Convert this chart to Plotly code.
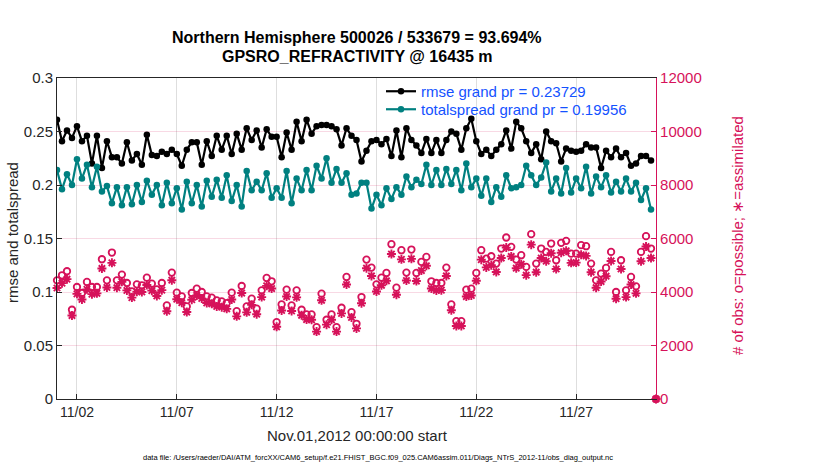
import pandas as pd
import plotly.graph_objects as go

# ---------------- data ----------------
rmse = [0.261, 0.241, 0.251, 0.244, 0.255, 0.241, 0.246, 0.220, 0.246, 0.216,
        0.241, 0.226, 0.226, 0.220, 0.240, 0.223, 0.229, 0.219, 0.247, 0.228,
        0.227, 0.231, 0.229, 0.233, 0.229, 0.218, 0.233, 0.240, 0.240, 0.219,
        0.241, 0.227, 0.246, 0.233, 0.246, 0.229, 0.248, 0.233, 0.253, 0.242,
        0.251, 0.235, 0.252, 0.245, 0.245, 0.226, 0.249, 0.233, 0.259, 0.241,
        0.261, 0.248, 0.255, 0.256, 0.256, 0.255, 0.252, 0.237, 0.253, 0.246,
        0.242, 0.222, 0.232, 0.241, 0.242, 0.238, 0.243, 0.227, 0.251, 0.226,
        0.253, 0.242, 0.237, 0.230, 0.243, 0.230, 0.242, 0.230, 0.242, 0.250,
        0.248, 0.233, 0.253, 0.262, 0.241, 0.229, 0.233, 0.227, 0.233, 0.238,
        0.251, 0.234, 0.259, 0.253, 0.241, 0.230, 0.238, 0.224, 0.250, 0.241,
        0.239, 0.222, 0.234, 0.232, 0.231, 0.232, 0.238, 0.235, 0.235, 0.216,
        0.232, 0.226, 0.234, 0.226, 0.230, 0.218, 0.220, 0.227, 0.227, 0.223]

totalspread = [0.214, 0.196, 0.210, 0.200, 0.224, 0.206, 0.219, 0.198, 0.217, 0.194,
               0.199, 0.183, 0.198, 0.181, 0.198, 0.182, 0.200, 0.184, 0.204, 0.191,
               0.200, 0.181, 0.202, 0.183, 0.197, 0.177, 0.203, 0.183, 0.200, 0.180,
               0.204, 0.189, 0.205, 0.188, 0.209, 0.185, 0.200, 0.180, 0.213, 0.195,
               0.203, 0.195, 0.211, 0.188, 0.197, 0.188, 0.213, 0.183, 0.206, 0.195,
               0.214, 0.195, 0.218, 0.206, 0.225, 0.202, 0.215, 0.202, 0.211, 0.191,
               0.192, 0.202, 0.202, 0.178, 0.191, 0.181, 0.197, 0.187, 0.198, 0.191,
               0.208, 0.198, 0.205, 0.201, 0.219, 0.200, 0.214, 0.200, 0.215, 0.201,
               0.214, 0.195, 0.220, 0.198, 0.206, 0.190, 0.206, 0.184, 0.198, 0.189,
               0.209, 0.197, 0.198, 0.200, 0.218, 0.209, 0.200, 0.207, 0.221, 0.194,
               0.206, 0.192, 0.216, 0.193, 0.206, 0.197, 0.217, 0.192, 0.208, 0.198,
               0.209, 0.193, 0.203, 0.194, 0.206, 0.194, 0.202, 0.186, 0.197, 0.177]

obs_possible = [4437, 4625, 4775, 3337, 4187, 3962, 4375, 4187, 4187, 5225,
                4437, 5475, 4437, 4650, 4337, 4025, 4287, 4250, 4537, 4312,
                4100, 4337, 3500, 4725, 3975, 3837, 3462, 3962, 4125, 4000,
                3837, 3787, 3687, 3650, 3587, 3975, 3287, 4225, 3462, 3750,
                3375, 4062, 4525, 4400, 2875, 3537, 4087, 3500, 4062, 3337,
                3162, 3162, 2687, 3937, 2962, 3162, 2687, 3412, 4562, 3250,
                2812, 3812, 5212, 4912, 4287, 4537, 4712, 5787, 4162, 5562,
                4725, 5587, 4712, 5125, 5312, 4400, 4337, 4337, 4912, 3537,
                2912, 2912, 4087, 4125, 4712, 5562, 5250, 5337, 5062, 5625,
                6037, 5687, 5212, 5375, 4937, 6162, 5062, 5625, 5500, 5812,
                5187, 5837, 5912, 5437, 5437, 5750, 5712, 5062, 4437, 4687,
                4900, 5500, 4000, 5187, 4062, 4562, 4212, 5500, 6087, 5625, 0]

obs_assimilated = [4150, 4330, 4480, 3120, 3930, 3720, 4100, 3920, 3950, 4880,
                   4170, 5090, 4160, 4380, 4060, 3790, 4010, 4000, 4260, 4050,
                   3850, 4070, 3280, 4440, 3730, 3600, 3250, 3710, 3870, 3760,
                   3590, 3560, 3460, 3430, 3370, 3720, 3090, 3960, 3240, 3520,
                   3170, 3810, 4230, 4130, 2700, 3310, 3830, 3290, 3800, 3130,
                   2970, 2960, 2520, 3690, 2780, 2960, 2520, 3200, 4280, 3050,
                   2640, 3580, 4890, 4600, 4020, 4250, 4420, 5420, 3900, 5220,
                   4430, 5240, 4410, 4800, 4980, 4130, 4060, 4070, 4600, 3320,
                   2730, 2730, 3830, 3870, 4420, 5210, 4920, 5000, 4750, 5270,
                   5660, 5330, 4890, 5040, 4630, 5770, 4740, 5270, 5150, 5450,
                   4860, 5470, 5540, 5090, 5100, 5390, 5350, 4740, 4160, 4390,
                   4590, 5160, 3750, 4860, 3810, 4280, 3950, 5150, 5700, 5270, 0]

times = pd.date_range("2012-11-01 00:00", periods=len(obs_possible), freq="6h")
xtick_vals = pd.date_range("2012-11-02", periods=6, freq="5D")
xtick_text = ["11/02", "11/07", "11/12", "11/17", "11/22", "11/27"]
y1_ticks = [0, 0.05, 0.1, 0.15, 0.2, 0.25, 0.3]
y1_text = ["0", "0.05", "0.1", "0.15", "0.2", "0.25", "0.3"]
y2_ticks = [0, 2000, 4000, 6000, 8000, 10000, 12000]
y2_text = ["0", "2000", "4000", "6000", "8000", "10000", "12000"]

# ---------------- style ----------------
FONT = "Liberation Sans, Arial, Helvetica, sans-serif"
TXT = "#262626"
PINK = "#d6125a"
TEAL = "#008080"
BLUE = "#1452ff"
W, H = 830, 470
L, R, T, B = 57, 656, 78, 399

def px_x(p):
    return (p - L) / (R - L)

def px_y(p):
    return (B - p) / (B - T)

fig = go.Figure()

fig.add_trace(go.Scatter(
    x=times, y=obs_possible, yaxis="y2", mode="markers", showlegend=False,
    marker=dict(symbol="circle-open", size=6.5, color=PINK, line=dict(width=1.8, color=PINK)),
    cliponaxis=False, hoverinfo="skip"))
fig.add_trace(go.Scatter(
    x=times, y=obs_assimilated, yaxis="y2", mode="markers", showlegend=False,
    marker=dict(symbol="asterisk-open", size=7.5, color=PINK, line=dict(width=1.9, color=PINK)),
    cliponaxis=False, hoverinfo="skip"))

fig.add_trace(go.Scatter(
    x=times[:len(rmse)], y=rmse, mode="lines+markers",
    name="rmse grand pr = 0.23729", legend="legend",
    line=dict(color="black", width=2.2),
    marker=dict(symbol="circle", size=6.5, color="black")))
fig.add_trace(go.Scatter(
    x=times[:len(totalspread)], y=totalspread, mode="lines+markers",
    name="totalspread grand pr = 0.19956", legend="legend2",
    line=dict(color=TEAL, width=2.2),
    marker=dict(symbol="circle", size=6.5, color=TEAL)))

leg_common = dict(xanchor="left", yanchor="top", bgcolor="rgba(0,0,0,0)", borderwidth=0,
                  font=dict(family=FONT, size=15, color=BLUE), itemwidth=30)

fig.update_layout(
    width=W, height=H,
    margin=dict(l=L, r=W - R, t=T, b=H - B, pad=0),
    paper_bgcolor="white", plot_bgcolor="white",
    font=dict(family=FONT, color=TXT, size=15),
    showlegend=True,
    legend=dict(x=px_x(381), y=px_y(75), **leg_common),
    legend2=dict(x=px_x(381), y=px_y(93), **leg_common),
    xaxis=dict(
        range=[pd.Timestamp("2012-11-01 00:00"), pd.Timestamp("2012-12-01 00:00")],
        tickvals=list(xtick_vals), ticktext=xtick_text,
        ticks="inside", ticklen=5, tickcolor=TXT,
        showgrid=True, gridcolor="rgba(0,0,0,0.13)", gridwidth=1,
        showline=True, linecolor=TXT, linewidth=1, mirror=True,
        tickfont=dict(size=14, color=TXT), zeroline=False),
    yaxis=dict(
        range=[0, 0.3], tickvals=y1_ticks, ticktext=y1_text,
        ticks="inside", ticklen=5, tickcolor=TXT,
        showgrid=True, gridcolor="rgba(214,18,90,0.16)", gridwidth=1,
        showline=True, linecolor=TXT, linewidth=1,
        tickfont=dict(size=15, color=TXT), zeroline=False),
    yaxis2=dict(
        range=[0, 12000], tickvals=y2_ticks, ticktext=y2_text,
        overlaying="y", side="right",
        ticks="inside", ticklen=5, tickcolor=PINK,
        showgrid=False, showline=True, linecolor=PINK, linewidth=1.2,
        tickfont=dict(size=15, color=PINK), zeroline=False),
)

ann = [
    dict(text="<b>Northern Hemisphere 500026 / 533679 = 93.694%</b>", x=px_x(357), y=px_y(37),
         font=dict(size=16, color="black")),
    dict(text="<b>GPSRO_REFRACTIVITY @ 16435 m</b>", x=px_x(357), y=px_y(56),
         font=dict(size=16, color="black")),
    dict(text="Nov.01,2012 00:00:00 start", x=px_x(357), y=px_y(435),
         font=dict(size=15, color=TXT)),
    dict(text="rmse and totalspread", x=px_x(12), y=px_y(233), textangle=-90,
         font=dict(size=15, color=TXT)),
    dict(text="# of obs: o=possible; \u2217=assimilated", x=px_x(737), y=px_y(235), textangle=-90,
         font=dict(size=15, color=PINK)),
    dict(text="data file: /Users/raeder/DAI/ATM_forcXX/CAM6_setup/f.e21.FHIST_BGC.f09_025.CAM6assim.011/Diags_NTrS_2012-11/obs_diag_output.nc",
         x=px_x(378), y=px_y(458), font=dict(size=7.5, color="black")),
]
for a in ann:
    fig.add_annotation(xref="paper", yref="paper", showarrow=False,
                       xanchor="center", yanchor="middle", **a)

fig.write_html("out.html", config={"displayModeBar": False},
               post_script="document.body.style.margin='0';")
